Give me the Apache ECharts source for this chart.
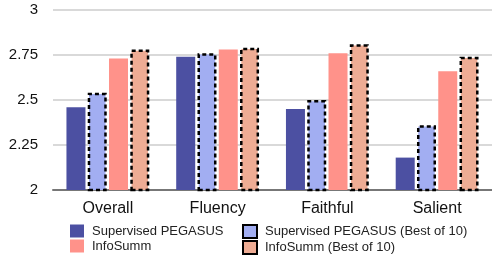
<!DOCTYPE html>
<html>
<head>
<meta charset="utf-8">
<script src="https://cdn.jsdelivr.net/npm/echarts@6/dist/echarts.min.js"></script>
<style>
  html, body { margin: 0; padding: 0; background: #fff; }
  #chart { width: 492px; height: 255px; }
</style>
</head>
<body>
<div id="chart"></div>
<script>
// 类别与数据
var categories = ['Overall', 'Fluency', 'Faithful', 'Salient'];
var seriesNames = ['Supervised PEGASUS', 'Supervised PEGASUS (Best of 10)', 'InfoSumm', 'InfoSumm (Best of 10)'];
var pegasus = [2.46, 2.74, 2.45, 2.18];
var pegasusBest = [2.54, 2.76, 2.50, 2.36];
var infoSumm = [2.73, 2.78, 2.76, 2.66];
var infoSummBest = [2.78, 2.79, 2.81, 2.74];
var yTicks = [2, 2.25, 2.5, 2.75, 3];

(function () {
    var myChart = echarts.init(document.getElementById('chart'));
    var font = 'Liberation Sans, Arial, sans-serif';
    var colors = ['#4c50a2', '#a2aef2', '#ff928a', '#eeac94'];
    var dataList = [pegasus, pegasusBest, infoSumm, infoSummBest];

    var series = dataList.map(function (d, i) {
        var dashed = (i === 1 || i === 3);
        return {
            name: seriesNames[i],
            type: 'bar',
            data: d,
            barWidth: 19,
            barGap: '12%',
            itemStyle: dashed ? {
                color: colors[i],
                borderColor: '#000',
                borderWidth: 2.5,
                borderType: [4, 3]
            } : { color: colors[i] }
        };
    });

    var legendCommon = {
        orient: 'vertical',
        top: 224,
        height: 40,
        icon: 'rect',
        itemWidth: 14,
        itemHeight: 13,
        itemGap: 1,
        padding: 0,
        textStyle: { fontFamily: font, fontSize: 13, lineHeight: 14, color: '#222', padding: [0, 0, 0, 3] }
    };

    var option = {
        animation: false,
        textStyle: { fontFamily: font },
        legend: [
            Object.assign({ left: 70, data: [seriesNames[0], seriesNames[2]] }, legendCommon),
            Object.assign({ left: 242, data: [seriesNames[1], seriesNames[3]] }, legendCommon)
        ],
        grid: {
            left: 53,
            top: 10,
            width: 442,
            height: 180
        },
        xAxis: {
            type: 'category',
            data: categories,
            axisTick: { show: false },
            axisLine: { lineStyle: { color: '#777', width: 2 } },
            axisLabel: { fontSize: 16, color: '#111', margin: 11 }
        },
        yAxis: {
            type: 'value',
            min: yTicks[0],
            max: yTicks[yTicks.length - 1],
            interval: 0.25,
            axisLine: { show: false },
            axisTick: { show: false },
            axisLabel: { fontSize: 15, color: '#111', margin: 15 },
            splitLine: { lineStyle: { color: '#ccc', width: 1.5 } }
        },
        series: series
    };
    myChart.setOption(option);
    window.addEventListener('resize', function () {
        myChart.resize();
    });
})();
</script>
</body>
</html>
